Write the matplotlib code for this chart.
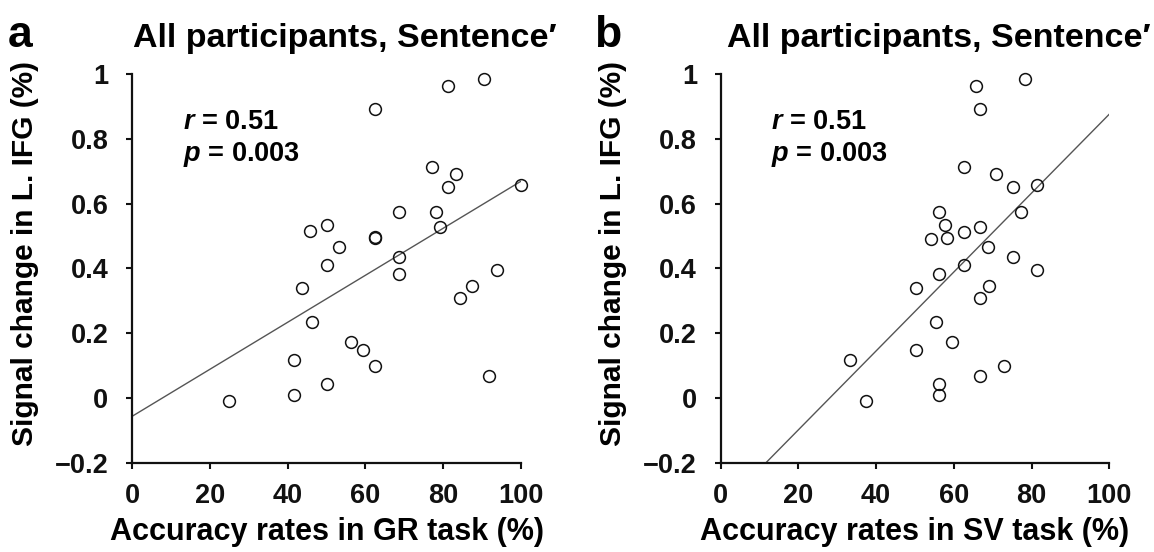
import matplotlib
matplotlib.use("Agg")
import matplotlib.pyplot as plt
import numpy as np

# ---- data ----
signal_change = [-0.008, 0.010, 0.118, 0.044, 0.338, 0.235, 0.514, 0.535, 0.411, 0.467,
                 0.174, 0.148, 0.100, 0.892, 0.493, 0.497, 0.575, 0.435, 0.382, 0.713,
                 0.575, 0.529, 0.652, 0.690, 0.962, 0.984, 0.395, 0.345, 0.307, 0.069, 0.656]
gr_accuracy = [25.0, 41.7, 41.7, 50.0, 43.8, 46.4, 45.8, 50.0, 50.0, 53.1,
               56.2, 59.4, 62.5, 62.5, 62.5, 62.5, 68.7, 68.7, 68.7, 77.1,
               78.1, 79.2, 81.2, 83.3, 81.2, 90.6, 93.8, 87.5, 84.4, 91.7, 100.0]

sv_signal = [0.118, -0.008, 0.338, 0.148, 0.235, 0.575, 0.535, 0.490, 0.495, 0.382,
             0.044, 0.010, 0.174, 0.713, 0.513, 0.411, 0.962, 0.892, 0.528, 0.307,
             0.069, 0.467, 0.344, 0.690, 0.100, 0.652, 0.435, 0.575, 0.984, 0.656, 0.395]
sv_accuracy = [33.4, 37.5, 50.2, 50.2, 55.4, 56.3, 57.7, 54.2, 58.3, 56.3,
               56.3, 56.3, 59.6, 62.6, 62.6, 62.6, 65.7, 66.8, 66.8, 66.8,
               66.8, 68.9, 69.1, 70.8, 72.9, 75.1, 75.1, 77.2, 78.3, 81.5, 81.5]

# regression lines (intercept, slope)
fit_gr = (-0.057, 0.00726)
fit_sv = (-0.342, 0.01218)

x_ticks = [0, 20, 40, 60, 80, 100]
y_ticks = [-0.2, 0, 0.2, 0.4, 0.6, 0.8, 1]
y_ticklabels = ["\u22120.2", "0", "0.2", "0.4", "0.6", "0.8", "1"]

title_text = "All participants, Sentence\u2032"
stats_r = "0.51"
stats_p = "0.003"

plt.rcParams['font.family'] = ['Liberation Sans', 'DejaVu Sans']
plt.rcParams['font.weight'] = 'bold'
plt.rcParams['mathtext.fontset'] = 'custom'
plt.rcParams['mathtext.it'] = 'Liberation Sans:italic:bold'
plt.rcParams['mathtext.rm'] = 'Liberation Sans:bold'

W, H = 1154, 552
fig = plt.figure(figsize=(W / 100, H / 100), dpi=100)

panels = [
    dict(left=132, right=521, x=gr_accuracy, y=signal_change, fit=fit_gr,
         xlabel="Accuracy rates in GR task (%)", letter="a", letter_x=8, title_x=345),
    dict(left=720.7, right=1109.3, x=sv_accuracy, y=sv_signal, fit=fit_sv,
         xlabel="Accuracy rates in SV task (%)", letter="b", letter_x=594, title_x=939),
]
top_px, bottom_px = 74, 462.7

for p in panels:
    ax = fig.add_axes([p['left'] / W, 1 - bottom_px / H,
                       (p['right'] - p['left']) / W, (bottom_px - top_px) / H])
    ax.set_xlim(0, 100)
    ax.set_ylim(-0.2, 1)
    for s in ['top', 'right']:
        ax.spines[s].set_visible(False)
    for s in ['left', 'bottom']:
        ax.spines[s].set_linewidth(1.6)
        ax.spines[s].set_color('#111111')

    xs = np.array([0, 100])
    ax.plot(xs, p['fit'][0] + p['fit'][1] * xs, color='#555555', lw=1.0, zorder=2)
    ax.plot(p['x'], p['y'], linestyle='none', marker='o', ms=8.5, mfc='none',
            mec='#111111', mew=1.1, clip_on=False, zorder=3)

    ax.set_xticks(x_ticks)
    ax.set_yticks(y_ticks)
    ax.set_yticklabels(y_ticklabels)
    ax.tick_params(axis='both', direction='out', length=4.5, width=1.5,
                   labelsize=19.5, colors='#111111')
    ax.tick_params(axis='y', pad=12.5)
    ax.tick_params(axis='x', pad=10)

    ax.set_xlabel(p['xlabel'], fontsize=22, fontweight='bold')
    ax.xaxis.set_label_coords(0.5, -0.14)
    ax.set_ylabel("Signal change in L. IFG (%)", fontsize=21.5, fontweight='bold')
    ax.yaxis.set_label_coords(-0.24, 0.537)

    ax.text(13, 0.829, r"$r$ = " + stats_r, fontsize=19.5, fontweight='bold', va='baseline')
    ax.text(13, 0.731, r"$p$ = " + stats_p, fontsize=19.5, fontweight='bold', va='baseline')

    fig.text(p['title_x'] / W, 1 - 47 / H, title_text, ha='center', va='baseline',
             fontsize=24.5, fontweight='bold')
    fig.text(p['letter_x'] / W, 1 - 47 / H, p['letter'], ha='left', va='baseline',
             fontsize=32, fontweight='bold')

fig.savefig("out.png", dpi=100)
